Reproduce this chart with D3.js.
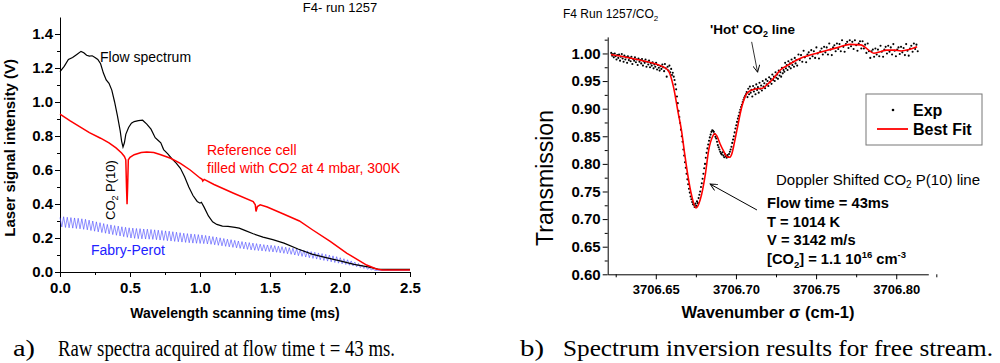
<!DOCTYPE html>
<html>
<head>
<meta charset="utf-8">
<script src="https://cdn.jsdelivr.net/npm/d3@7"></script>
<style>
  body { margin: 0; background: #fff; }
  svg { display: block; font-family: "Liberation Sans", Arial, sans-serif; }
</style>
</head>
<body>
<svg id="chart" width="1000" height="363"></svg>
<script>
// ---- panel a : raw spectra (time in ms, signal in V) ----
const flowT = [0, 0.03, 0.06, 0.09, 0.12, 0.15, 0.17, 0.19, 0.21, 0.23, 0.25, 0.27, 0.29, 0.31, 0.33, 0.35, 0.37, 0.39, 0.41, 0.43, 0.44, 0.45, 0.46, 0.47, 0.49, 0.51, 0.53, 0.56, 0.59, 0.62, 0.65, 0.68, 0.70, 0.72, 0.74, 0.77, 0.80, 0.83, 0.86, 0.89, 0.92, 0.95, 0.98, 1.0, 1.01, 1.03, 1.06, 1.09, 1.12, 1.16, 1.2, 1.25, 1.28, 1.32, 1.38, 1.45, 1.52, 1.6, 1.7, 1.8, 1.9, 2.0, 2.1, 2.2, 2.27, 2.35, 2.5];
const flowV = [1.178, 1.21, 1.25, 1.262, 1.28, 1.298, 1.29, 1.275, 1.27, 1.272, 1.262, 1.25, 1.225, 1.17, 1.13, 1.11, 1.07, 1.0, 0.92, 0.83, 0.77, 0.735, 0.76, 0.81, 0.85, 0.875, 0.885, 0.89, 0.893, 0.87, 0.84, 0.79, 0.775, 0.76, 0.72, 0.695, 0.665, 0.64, 0.61, 0.56, 0.5, 0.45, 0.415, 0.405, 0.41, 0.38, 0.33, 0.295, 0.28, 0.27, 0.268, 0.262, 0.258, 0.245, 0.225, 0.205, 0.19, 0.17, 0.135, 0.105, 0.085, 0.065, 0.045, 0.03, 0.017, 0.015, 0.015];

const refT = [0, 0.07, 0.14, 0.21, 0.29, 0.35, 0.40, 0.44, 0.46, 0.47, 0.475, 0.479, 0.483, 0.488, 0.50, 0.53, 0.58, 0.62, 0.67, 0.72, 0.79, 0.86, 0.93, 1.0, 1.015, 1.02, 1.03, 1.1, 1.24, 1.38, 1.395, 1.40, 1.41, 1.43, 1.48, 1.6, 1.71, 1.8, 1.93, 2.05, 2.19, 2.26, 2.3, 2.5];
const refV = [0.928, 0.89, 0.855, 0.82, 0.787, 0.76, 0.73, 0.70, 0.68, 0.66, 0.5, 0.398, 0.5, 0.66, 0.675, 0.69, 0.703, 0.706, 0.703, 0.69, 0.669, 0.639, 0.6, 0.553, 0.545, 0.535, 0.545, 0.515, 0.463, 0.414, 0.395, 0.356, 0.385, 0.395, 0.382, 0.34, 0.3, 0.25, 0.18, 0.11, 0.041, 0.018, 0.012, 0.012];

// Fabry-Perot fringes: time of each maximum, value at maxima and at the following minima
const fpPeakT = [0.000, 0.026, 0.052, 0.078, 0.104, 0.130, 0.156, 0.182, 0.208, 0.234,
  0.260, 0.286, 0.312, 0.338, 0.364, 0.390, 0.416, 0.442, 0.468, 0.494,
  0.520, 0.546, 0.572, 0.598, 0.624, 0.650, 0.676, 0.702, 0.728, 0.754,
  0.780, 0.806, 0.832, 0.858, 0.884, 0.910, 0.936, 0.962, 0.988, 1.014,
  1.040, 1.066, 1.092, 1.118, 1.144, 1.170, 1.196, 1.222, 1.248, 1.274,
  1.300, 1.326, 1.352, 1.378, 1.404, 1.430, 1.456, 1.482, 1.508, 1.534,
  1.560, 1.586, 1.612, 1.638, 1.664, 1.690, 1.716, 1.742, 1.768, 1.794,
  1.820, 1.846, 1.872, 1.898, 1.924, 1.950, 1.976, 2.002, 2.028, 2.054,
  2.080, 2.106, 2.132, 2.158, 2.184, 2.210, 2.236];
const fpPeakV = [0.32, 0.325, 0.322, 0.32, 0.318, 0.316, 0.313, 0.31, 0.305, 0.30,
  0.295, 0.29, 0.285, 0.28, 0.277, 0.273, 0.27, 0.266, 0.263, 0.26,
  0.258, 0.256, 0.255, 0.253, 0.252, 0.25, 0.248, 0.246, 0.244, 0.242,
  0.24, 0.237, 0.234, 0.231, 0.228, 0.226, 0.224, 0.222, 0.22, 0.218,
  0.215, 0.212, 0.208, 0.205, 0.201, 0.197, 0.193, 0.19, 0.186, 0.182,
  0.179, 0.176, 0.173, 0.17, 0.167, 0.164, 0.161, 0.159, 0.157, 0.155,
  0.152, 0.149, 0.146, 0.143, 0.14, 0.136, 0.132, 0.128, 0.124, 0.12,
  0.116, 0.112, 0.108, 0.104, 0.1, 0.095, 0.09, 0.084, 0.078, 0.072,
  0.065, 0.058, 0.05, 0.042, 0.034, 0.026, 0.018];
const fpTroughV = [0.265, 0.262, 0.26, 0.258, 0.256, 0.254, 0.251, 0.248, 0.244, 0.24,
  0.236, 0.232, 0.228, 0.224, 0.22, 0.216, 0.212, 0.208, 0.204, 0.2,
  0.198, 0.196, 0.195, 0.194, 0.193, 0.192, 0.19, 0.188, 0.186, 0.184,
  0.182, 0.18, 0.178, 0.176, 0.174, 0.172, 0.17, 0.169, 0.168, 0.167,
  0.165, 0.163, 0.16, 0.157, 0.154, 0.151, 0.148, 0.145, 0.142, 0.139,
  0.136, 0.133, 0.13, 0.128, 0.126, 0.124, 0.122, 0.12, 0.118, 0.116,
  0.113, 0.11, 0.107, 0.104, 0.1, 0.096, 0.092, 0.088, 0.084, 0.08,
  0.076, 0.072, 0.068, 0.064, 0.06, 0.056, 0.052, 0.048, 0.044, 0.04,
  0.036, 0.031, 0.026, 0.021, 0.016, 0.012, 0.01];
const fpTailT = [2.27, 2.5];
const fpTailV = [0.01, 0.01];

const xTicksA = [0, 0.5, 1.0, 1.5, 2.0, 2.5];
const xMinorA = [0.25, 0.75, 1.25, 1.75, 2.25];
const yTicksA = [0, 0.2, 0.4, 0.6, 0.8, 1.0, 1.2, 1.4];
const yMinorA = [0.1, 0.3, 0.5, 0.7, 0.9, 1.1, 1.3];

// ---- panel b : transmission vs wavenumber (offset from 3706 cm-1) ----
const wnBase = 3706;
const fitW = [0.622, 0.630, 0.640, 0.646, 0.652, 0.655, 0.658, 0.661, 0.664, 0.666, 0.6677, 0.6698, 0.6725, 0.675, 0.6777, 0.681, 0.683, 0.6855, 0.6867, 0.688, 0.690, 0.6925, 0.6944, 0.696, 0.6975, 0.699, 0.7006, 0.7037, 0.7069, 0.710, 0.713, 0.7165, 0.720, 0.7235, 0.7277, 0.732, 0.736, 0.740, 0.745, 0.750, 0.757, 0.764, 0.771, 0.778, 0.782, 0.786, 0.790, 0.794, 0.799, 0.803, 0.808, 0.813];
const fitT = [0.998, 0.994, 0.988, 0.984, 0.979, 0.975, 0.968, 0.940, 0.892, 0.861, 0.825, 0.783, 0.741, 0.720, 0.735, 0.783, 0.825, 0.850, 0.855, 0.851, 0.837, 0.822, 0.813, 0.812, 0.819, 0.838, 0.861, 0.904, 0.928, 0.934, 0.936, 0.937, 0.945, 0.955, 0.970, 0.978, 0.985, 0.991, 0.996, 1.000, 1.006, 1.011, 1.0165, 1.0155, 1.008, 1.0004, 1.003, 1.006, 1.006, 1.0045, 1.007, 1.012];

const expW = [
  0.6222, 0.6228, 0.6233, 0.6238, 0.6244, 0.6249, 0.6255, 0.6260, 0.6266, 0.6271, 0.6277, 0.6282, 0.6288, 0.6293, 0.6299, 0.6304, 0.6310, 0.6315, 0.6321, 0.6326,
  0.6332, 0.6337, 0.6343, 0.6348, 0.6354, 0.6359, 0.6365, 0.6370, 0.6376, 0.6381, 0.6387, 0.6392, 0.6398, 0.6403, 0.6409, 0.6414, 0.6420, 0.6425, 0.6431, 0.6436,
  0.6442, 0.6447, 0.6453, 0.6458, 0.6464, 0.6469, 0.6475, 0.6480, 0.6486, 0.6491, 0.6497, 0.6502, 0.6508, 0.6513, 0.6519, 0.6524, 0.6530, 0.6535, 0.6541, 0.6546,
  0.6552, 0.6557, 0.6563, 0.6568, 0.6574, 0.6579, 0.6585, 0.6590, 0.6596,
  0.6601, 0.6606, 0.6612, 0.6617, 0.6622, 0.6627, 0.6632, 0.6637, 0.6642, 0.6647, 0.6652, 0.6657, 0.6662, 0.6667, 0.6672, 0.6677, 0.6682, 0.6687, 0.6692, 0.6697,
  0.6702, 0.6707, 0.6712, 0.6717, 0.6722, 0.6727, 0.6732, 0.6737, 0.6742, 0.6747, 0.6752, 0.6757, 0.6762, 0.6767, 0.6772, 0.6777, 0.6782, 0.6787, 0.6792, 0.6797,
  0.6802, 0.6807, 0.6812, 0.6817, 0.6822, 0.6827, 0.6832, 0.6837, 0.6842, 0.6847, 0.6852, 0.6857, 0.6862, 0.6867, 0.6872, 0.6877, 0.6882, 0.6887, 0.6892, 0.6897,
  0.6902, 0.6907, 0.6912, 0.6917, 0.6922, 0.6927, 0.6932, 0.6937, 0.6942, 0.6947, 0.6952, 0.6957, 0.6962, 0.6967, 0.6972, 0.6977, 0.6982, 0.6987, 0.6992, 0.6997,
  0.7002, 0.7007, 0.7012, 0.7017, 0.7022, 0.7027, 0.7032, 0.7037, 0.7042, 0.7047, 0.7052, 0.7057, 0.7062,
  0.7067, 0.7072, 0.7077, 0.7082, 0.7087, 0.7092, 0.7097, 0.7102, 0.7107, 0.7112, 0.7117, 0.7122, 0.7127, 0.7132, 0.7137, 0.7142, 0.7147, 0.7152, 0.7157, 0.7162,
  0.7167, 0.7172, 0.7177, 0.7182, 0.7187, 0.7192, 0.7197, 0.7202, 0.7207, 0.7212, 0.7217, 0.7222, 0.7227, 0.7232, 0.7237, 0.7242, 0.7247, 0.7252, 0.7257, 0.7262,
  0.7267, 0.7272, 0.7277, 0.7282, 0.7287, 0.7292, 0.7297, 0.7302, 0.7307, 0.7312, 0.7317, 0.7322, 0.7327, 0.7332, 0.7337, 0.7342, 0.7347, 0.7352, 0.7357, 0.7362,
  0.7367, 0.7372, 0.7377, 0.7382,
  0.7390, 0.7398, 0.7406, 0.7414, 0.7422, 0.7430, 0.7438, 0.7446, 0.7454, 0.7462, 0.7470, 0.7478, 0.7486, 0.7494, 0.7502, 0.7510, 0.7518, 0.7526, 0.7534, 0.7542,
  0.7550, 0.7558, 0.7566, 0.7574, 0.7582, 0.7590, 0.7598, 0.7606, 0.7614, 0.7622, 0.7630, 0.7638, 0.7646, 0.7654, 0.7662, 0.7670, 0.7678, 0.7686, 0.7694, 0.7702,
  0.7710, 0.7718, 0.7726, 0.7734, 0.7742, 0.7750, 0.7758, 0.7766, 0.7774, 0.7782, 0.7790, 0.7798, 0.7806, 0.7814, 0.7822, 0.7830, 0.7838, 0.7846, 0.7854, 0.7862,
  0.7870, 0.7878, 0.7886, 0.7894, 0.7902, 0.7910, 0.7918, 0.7926, 0.7934, 0.7942, 0.7950, 0.7958, 0.7966, 0.7974, 0.7982, 0.7990, 0.7998, 0.8006, 0.8014, 0.8022,
  0.8030, 0.8038, 0.8046, 0.8054, 0.8062, 0.8070, 0.8078, 0.8086, 0.8094, 0.8102, 0.8110, 0.8118, 0.8126, 0.8134];
const expT = [
  1.001, 0.996, 0.999, 0.993, 1.000, 0.995, 0.989, 0.997, 0.992, 0.998, 0.987, 0.994, 0.999, 0.991, 0.985, 0.996, 0.989, 0.993, 0.983, 0.995,
  0.988, 0.992, 0.986, 0.994, 0.981, 0.990, 0.987, 0.993, 0.984, 0.989, 0.979, 0.991, 0.985, 0.988, 0.982, 0.990, 0.978, 0.986, 0.983, 0.989,
  0.976, 0.985, 0.980, 0.987, 0.975, 0.982, 0.978, 0.984, 0.973, 0.980, 0.976, 0.983, 0.971, 0.979, 0.974, 0.969, 0.977, 0.972, 0.980, 0.975,
  0.968, 0.981, 0.973, 0.958, 0.976, 0.969, 0.978, 0.966, 0.972,
  0.961, 0.965, 0.958, 0.952, 0.944, 0.935, 0.922, 0.910, 0.896, 0.885, 0.874, 0.862, 0.850, 0.840, 0.826, 0.815, 0.803, 0.793, 0.782, 0.772,
  0.763, 0.755, 0.748, 0.741, 0.736, 0.731, 0.727, 0.726, 0.722, 0.728, 0.724, 0.732, 0.729, 0.738, 0.744, 0.750, 0.758, 0.765, 0.773, 0.782,
  0.792, 0.800, 0.811, 0.820, 0.828, 0.835, 0.842, 0.848, 0.853, 0.858, 0.861, 0.860, 0.858, 0.854, 0.849, 0.846, 0.840, 0.834, 0.830, 0.826,
  0.822, 0.819, 0.817, 0.821, 0.815, 0.812, 0.818, 0.814, 0.811, 0.816, 0.813, 0.818, 0.822, 0.826, 0.831, 0.838, 0.844, 0.850, 0.857, 0.864,
  0.870, 0.876, 0.882, 0.887, 0.893, 0.898, 0.903, 0.907, 0.912, 0.916, 0.920, 0.923, 0.926,
  0.930, 0.921, 0.936, 0.926, 0.940, 0.929, 0.934, 0.922, 0.941, 0.931, 0.937, 0.926, 0.944, 0.934, 0.939, 0.929, 0.947, 0.936, 0.942, 0.933,
  0.950, 0.940, 0.946, 0.937, 0.953, 0.944, 0.950, 0.941, 0.957, 0.948, 0.954, 0.945, 0.962, 0.952, 0.958, 0.950, 0.966, 0.956, 0.962, 0.954,
  0.969, 0.960, 0.966, 0.958, 0.974, 0.964, 0.970, 0.967, 0.983, 0.973, 0.979, 0.970, 0.986, 0.976, 0.982, 0.973, 0.989, 0.979, 0.985, 0.976,
  0.992, 0.982, 0.988, 0.978,
  0.998, 0.988, 0.997, 0.985, 1.005, 0.993, 0.984, 0.998, 1.002, 0.991, 1.006, 0.995, 1.004, 0.992, 1.011, 1.000, 0.991, 1.004, 1.009, 0.998,
  1.012, 1.002, 1.011, 0.998, 1.018, 1.007, 0.997, 1.011, 1.015, 1.004, 1.018, 1.008, 1.017, 1.004, 1.024, 1.012, 1.003, 1.017, 1.021, 1.010,
  1.024, 1.013, 1.021, 1.008, 1.024, 1.015, 1.005, 1.018, 1.022, 1.009, 1.022, 1.009, 1.016, 1.001, 1.018, 1.004, 0.992, 1.004, 1.007, 0.994,
  1.009, 0.998, 1.007, 0.995, 1.014, 1.003, 0.994, 1.007, 1.012, 1.000, 1.014, 1.003, 1.011, 0.998, 1.017, 1.005, 0.995, 1.007, 1.011, 0.999,
  1.012, 1.002, 1.010, 0.997, 1.017, 1.005, 0.996, 1.009, 1.014, 1.003, 1.018, 1.008, 1.016, 1.004];

const xTicksB = [0.65, 0.70, 0.75, 0.80];
const xMinorB = [0.625, 0.675, 0.725, 0.775, 0.825];
const yTicksB = [0.60, 0.65, 0.70, 0.75, 0.80, 0.85, 0.90, 0.95, 1.00];
const yMinorB = [0.625, 0.675, 0.725, 0.775, 0.825, 0.875, 0.925, 0.975, 1.025];

const svg = d3.select("#chart");
const defs = svg.append("defs");
defs.append("marker")
  .attr("id", "arrow")
  .attr("viewBox", "0 0 10 10")
  .attr("refX", 10).attr("refY", 5)
  .attr("markerWidth", 9).attr("markerHeight", 7)
  .attr("markerUnits", "userSpaceOnUse")
  .attr("orient", "auto")
  .append("path")
  .attr("d", "M0,0L10,5L0,10")
  .attr("fill", "none")
  .attr("stroke", "#000")
  .attr("stroke-width", 1.3);

function styleAxis(g, size) {
  g.attr("font-family", null).attr("font-size", null);
  g.select(".domain").attr("stroke", "#000").attr("stroke-width", 1);
  g.selectAll(".tick line").attr("stroke", "#000");
  g.selectAll(".tick text")
    .attr("fill", "#000")
    .attr("font-size", size)
    .attr("font-weight", "bold");
}

// ================= panel a =================
const xL = d3.scaleLinear().domain([0, 2.5]).range([60, 410]);
const yL = d3.scaleLinear().domain([0, 1.5]).range([272, 17]);

svg.append("g")
  .attr("transform", `translate(0,${yL(0)})`)
  .call(d3.axisBottom(xL).tickValues(xTicksA).tickFormat(d3.format(".1f")).tickSize(5).tickSizeOuter(0).tickPadding(5))
  .call(g => styleAxis(g, 15));
svg.append("g")
  .attr("transform", `translate(0,${yL(0)})`)
  .call(d3.axisBottom(xL).tickValues(xMinorA).tickFormat("").tickSize(3))
  .call(g => { g.select(".domain").remove(); g.selectAll("line").attr("stroke", "#000"); });

svg.append("g")
  .attr("transform", `translate(${xL(0)},0)`)
  .call(d3.axisLeft(yL).tickValues(yTicksA).tickFormat(d3.format(".1f")).tickSize(5).tickSizeOuter(0).tickPadding(2))
  .call(g => styleAxis(g, 15));
svg.append("g")
  .attr("transform", `translate(${xL(0)},0)`)
  .call(d3.axisLeft(yL).tickValues(yMinorA).tickFormat("").tickSize(3))
  .call(g => { g.select(".domain").remove(); g.selectAll("line").attr("stroke", "#000"); });

const lineL = d3.line().x(d => xL(d[0])).y(d => yL(d[1]));

// Fabry-Perot
const fpHalf = (fpPeakT[1] - fpPeakT[0]) / 2;
const fpData = [];
fpPeakT.forEach((t, i) => {
  fpData.push([t, fpPeakV[i]]);
  fpData.push([t + fpHalf, fpTroughV[i]]);
});
fpTailT.forEach((t, i) => fpData.push([t, fpTailV[i]]));

svg.append("path")
  .datum(fpData)
  .attr("d", lineL)
  .attr("fill", "none")
  .attr("stroke", "#4646ff")
  .attr("stroke-width", 0.6);

svg.append("path")
  .datum(flowT.map((t, i) => [t, flowV[i]]))
  .attr("d", lineL)
  .attr("fill", "none")
  .attr("stroke", "#000")
  .attr("stroke-width", 1.2);

svg.append("path")
  .datum(refT.map((t, i) => [t, refV[i]]))
  .attr("d", lineL)
  .attr("fill", "none")
  .attr("stroke", "#ff0000")
  .attr("stroke-width", 1.5);

// labels panel a
svg.append("text")
  .attr("x", 340).attr("y", 12)
  .attr("text-anchor", "middle")
  .attr("font-size", 13)
  .text("F4- run 1257");

svg.append("text")
  .attr("x", xL(0.286)).attr("y", yL(1.235))
  .attr("font-size", 14)
  .text("Flow spectrum");

const refLabel = svg.append("text")
  .attr("font-size", 14)
  .attr("fill", "#ff0000");
refLabel.append("tspan").attr("x", xL(1.05)).attr("y", yL(0.688)).text("Reference cell");
refLabel.append("tspan").attr("x", xL(1.05)).attr("y", yL(0.582)).text("filled with CO2 at 4 mbar, 300K");

svg.append("text")
  .attr("x", xL(0.221)).attr("y", yL(0.1))
  .attr("font-size", 14)
  .attr("fill", "#2222ff")
  .text("Fabry-Perot");

const co2Label = svg.append("text")
  .attr("transform", `translate(${xL(0.39)},${yL(0.482)}) rotate(-90)`)
  .attr("text-anchor", "middle")
  .attr("font-size", 13);
co2Label.append("tspan").text("CO");
co2Label.append("tspan").attr("font-size", 9).attr("dy", 3).text("2");
co2Label.append("tspan").attr("dy", -3).text(" P(10)");

svg.append("text")
  .attr("x", 235).attr("y", 318)
  .attr("text-anchor", "middle")
  .attr("font-size", 14)
  .attr("font-weight", "bold")
  .text("Wavelength scanning time (ms)");

svg.append("text")
  .attr("transform", `translate(15,${yL(0.73)}) rotate(-90)`)
  .attr("text-anchor", "middle")
  .attr("font-size", 15)
  .attr("font-weight", "bold")
  .text("Laser signal intensity (V)");

// ================= panel b =================
const xR = d3.scaleLinear().domain([0.62, 0.82]).range([607.7, 928.3]);
const yR = d3.scaleLinear().domain([0.6, 1.03]).range([274.3, 36.9]);

svg.append("g")
  .attr("transform", `translate(0,${yR(0.6)})`)
  .call(d3.axisBottom(xR).tickValues(xTicksB).tickFormat(d => (wnBase + d).toFixed(2)).tickSize(5).tickSizeOuter(0).tickPadding(5))
  .call(g => styleAxis(g, 13));
svg.append("g")
  .attr("transform", `translate(0,${yR(0.6)})`)
  .call(d3.axisBottom(xR).tickValues(xMinorB).tickFormat("").tickSize(3))
  .call(g => { g.select(".domain").remove(); g.selectAll("line").attr("stroke", "#000"); });

svg.append("g")
  .attr("transform", `translate(${xR(0.62)},0)`)
  .call(d3.axisLeft(yR).tickValues(yTicksB).tickFormat(d3.format(".2f")).tickSize(5).tickSizeOuter(0).tickPadding(2))
  .call(g => styleAxis(g, 15));
svg.append("g")
  .attr("transform", `translate(${xR(0.62)},0)`)
  .call(d3.axisLeft(yR).tickValues(yMinorB).tickFormat("").tickSize(3))
  .call(g => { g.select(".domain").remove(); g.selectAll("line").attr("stroke", "#000"); });

svg.append("g")
  .selectAll("circle")
  .data(expW.map((w, i) => [w, expT[i]]))
  .join("circle")
  .attr("cx", d => xR(d[0]))
  .attr("cy", d => yR(d[1]))
  .attr("r", 1.05)
  .attr("fill", "#000");

svg.append("path")
  .datum(fitW.map((w, i) => [w, fitT[i]]))
  .attr("d", d3.line().curve(d3.curveMonotoneX).x(d => xR(d[0])).y(d => yR(d[1])))
  .attr("fill", "none")
  .attr("stroke", "#ff0000")
  .attr("stroke-width", 1.6);

// title panel b
const titleB = svg.append("text")
  .attr("x", 563).attr("y", 18)
  .attr("font-size", 12);
titleB.append("tspan").text("F4 Run 1257/CO");
titleB.append("tspan").attr("font-size", 8).attr("dy", 3).text("2");

// 'Hot' CO2 line
const hot = svg.append("text")
  .attr("x", 710).attr("y", 34)
  .attr("font-size", 13.5)
  .attr("font-weight", "bold");
hot.append("tspan").text("'Hot' CO");
hot.append("tspan").attr("font-size", 9).attr("dy", 3).text("2");
hot.append("tspan").attr("dy", -3).text(" line");

svg.append("line")
  .attr("x1", xR(0.7098)).attr("y1", yR(1.021))
  .attr("x2", xR(0.7135)).attr("y2", yR(0.966))
  .attr("stroke", "#000").attr("stroke-width", 0.8)
  .attr("marker-end", "url(#arrow)");

// legend
const legend = svg.append("g");
legend.append("rect")
  .attr("x", 866).attr("y", 94)
  .attr("width", 116).attr("height", 51)
  .attr("fill", "#fff")
  .attr("stroke", "#777");
legend.append("circle").attr("cx", 893).attr("cy", 110).attr("r", 1.3).attr("fill", "#000");
legend.append("line")
  .attr("x1", 877).attr("x2", 908).attr("y1", 129).attr("y2", 129)
  .attr("stroke", "#ff0000").attr("stroke-width", 1.8);
legend.append("text").attr("x", 913).attr("y", 116)
  .attr("font-size", 16).attr("font-weight", "bold").text("Exp");
legend.append("text").attr("x", 913).attr("y", 135)
  .attr("font-size", 16).attr("font-weight", "bold").text("Best Fit");

// annotation block
const dop = svg.append("text")
  .attr("x", 776).attr("y", 185)
  .attr("font-size", 15);
dop.append("tspan").text("Doppler Shifted CO");
dop.append("tspan").attr("font-size", 10).attr("dy", 3).text("2");
dop.append("tspan").attr("dy", -3).text(" P(10) line");

const info = svg.append("g")
  .attr("font-size", 14.7)
  .attr("font-weight", "bold");
info.append("text").attr("x", 767).attr("y", 208).text("Flow time = 43ms");
info.append("text").attr("x", 767).attr("y", 227).text("T = 1014 K");
info.append("text").attr("x", 767).attr("y", 245).text("V = 3142 m/s");
const conc = info.append("text").attr("x", 767).attr("y", 264);
conc.append("tspan").text("[CO");
conc.append("tspan").attr("font-size", 9.5).attr("dy", 4).text("2");
conc.append("tspan").attr("dy", -4).text("] = 1.1 10");
conc.append("tspan").attr("font-size", 9.5).attr("dy", -6).text("16");
conc.append("tspan").attr("dy", 6).text(" cm");
conc.append("tspan").attr("font-size", 9.5).attr("dy", -6).text("-3");

svg.append("line")
  .attr("x1", xR(0.7131)).attr("y1", yR(0.7165))
  .attr("x2", xR(0.6839)).attr("y2", yR(0.7634))
  .attr("stroke", "#000").attr("stroke-width", 1)
  .attr("marker-end", "url(#arrow)");

svg.append("text")
  .attr("x", 768).attr("y", 318)
  .attr("text-anchor", "middle")
  .attr("font-size", 16.5)
  .attr("font-weight", "bold")
  .text("Wavenumber \u03c3 (cm-1)");

svg.append("text")
  .attr("transform", `translate(553,178) rotate(-90)`)
  .attr("text-anchor", "middle")
  .attr("font-size", 23)
  .text("Transmission");

// ================= captions =================
const capFont = '"Liberation Serif", "Times New Roman", serif';
svg.append("text").attr("x", 13).attr("y", 356)
  .attr("font-family", capFont).attr("font-size", 24)
  .attr("textLength", 22).attr("lengthAdjust", "spacingAndGlyphs")
  .text("a)");
svg.append("text").attr("x", 58).attr("y", 356)
  .attr("font-family", capFont).attr("font-size", 23)
  .attr("textLength", 337).attr("lengthAdjust", "spacingAndGlyphs")
  .text("Raw spectra acquired at flow time t = 43 ms.");
svg.append("text").attr("x", 520).attr("y", 356)
  .attr("font-family", capFont).attr("font-size", 24)
  .attr("textLength", 24).attr("lengthAdjust", "spacingAndGlyphs")
  .text("b)");
svg.append("text").attr("x", 563).attr("y", 356)
  .attr("font-family", capFont).attr("font-size", 23)
  .attr("textLength", 430).attr("lengthAdjust", "spacingAndGlyphs")
  .text("Spectrum inversion results for free stream.");
</script>
</body>
</html>
